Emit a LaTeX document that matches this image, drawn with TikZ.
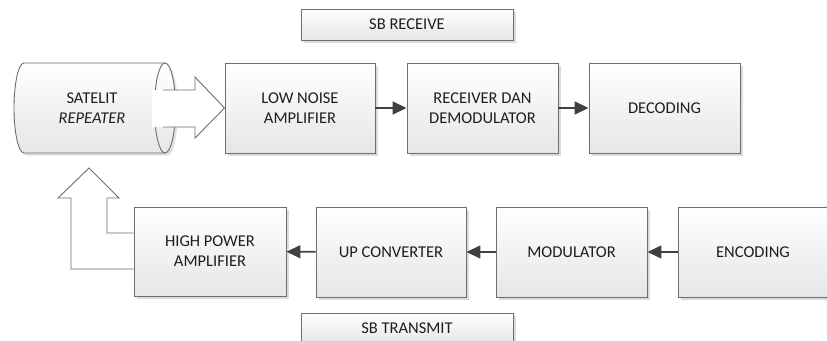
\documentclass[tikz,border=0pt]{standalone}
\usepackage{fontspec}
\setmainfont{Carlito}
\usetikzlibrary{arrows.meta,calc,shadows}
\definecolor{bordergray}{HTML}{6E6E6E}
\definecolor{boxbot}{HTML}{E6E6E6}
\definecolor{arrowgray}{HTML}{404040}
\definecolor{txt}{HTML}{1E1E1E}
\begin{document}
\begin{tikzpicture}[x=1pt,y=-1pt,
  blk/.style={draw=bordergray, line width=0.9pt, top color=white, bottom color=boxbot,
    minimum width=150pt, minimum height=90pt, align=center, inner sep=0pt,
    font=\fontsize{16.5}{20}\selectfont, text=txt,
    drop shadow={shadow xshift=2.5pt, shadow yshift=-2.5pt, fill=black!14, opacity=1}},
  lbl/.style={blk, minimum width=212pt, minimum height=31pt},
  conn/.style={draw=arrowgray, line width=1.6pt, -{Triangle[length=14pt,width=13pt]}},
  fat/.style={draw=bordergray, line width=0.9pt, fill=white, line join=miter}
]
\useasboundingbox (0,0) rectangle (827,340);

% cylinder (satelit repeater)
\fill[black!12] ($(24,63)+(2.5,2.5)$) -- ($(165,63)+(2.5,2.5)$) arc[start angle=-90, end angle=90, x radius=10.5, y radius=45]
   -- ($(24,153)+(2.5,2.5)$) arc[start angle=90, end angle=270, x radius=10, y radius=45] -- cycle;
\draw[draw=bordergray, line width=0.9pt, top color=white, bottom color=boxbot]
  (24,63) -- (165,63) arc[start angle=-90, end angle=90, x radius=10.5, y radius=45]
  -- (24,153) arc[start angle=90, end angle=270, x radius=10, y radius=45] -- cycle;
\draw[draw=bordergray, line width=0.9pt] (165,63) arc[start angle=-90, end angle=-270, x radius=10.5, y radius=45];
\node[font=\fontsize{16.5}{20}\selectfont, text=txt, align=center] (sat) at (92,108) {SATELIT\\\textit{REPEATER}};

% boxes
\node[blk] (lna) at (300,108) {LOW NOISE\\AMPLIFIER};
\node[blk, minimum width=151pt] (rx) at (482.5,108) {RECEIVER DAN\\DEMODULATOR};
\node[blk, minimum width=151pt] (dec) at (664.5,108) {DECODING};

\node[blk, minimum width=152pt, minimum height=89pt] (hpa) at (210,251.5) {HIGH POWER\\AMPLIFIER};
\node[blk] (up) at (391,252) {UP CONVERTER};
\node[blk, minimum width=151pt] (mod) at (571.5,252) {MODULATOR};
\node[blk] (enc) at (753,252) {ENCODING};

\node[lbl] (sbr) at (407,24.5) {SB RECEIVE};
\node[lbl] (sbt) at (407,328.5) {SB TRANSMIT};

% big arrow out of the cylinder into LNA
\fill[white] (152,90) -- (195,90) -- (195,77) -- (lna.west) -- (195,138) -- (195,127) -- (152,127) -- cycle;
\draw[fat, fill=none] (163,90) -- (195,90) -- (195,77) -- (lna.west) -- (195,138) -- (195,127) -- (163,127);

% bent arrow from HPA up to the cylinder
\draw[fat] ($(hpa.west)+(0,17.5)$) -- (71,269) -- (71,198) -- (58,198) -- (89,168) -- (119,198)
  -- (107,198) -- (107,233) -- ($(hpa.west)+(0,-18.5)$);

% connectors
\draw[conn] (lna) -- (rx);
\draw[conn] (rx) -- (dec);
\draw[conn] (enc) -- (mod);
\draw[conn] (mod) -- (up);
\draw[conn] (up) -- (hpa);
\end{tikzpicture}
\end{document}
